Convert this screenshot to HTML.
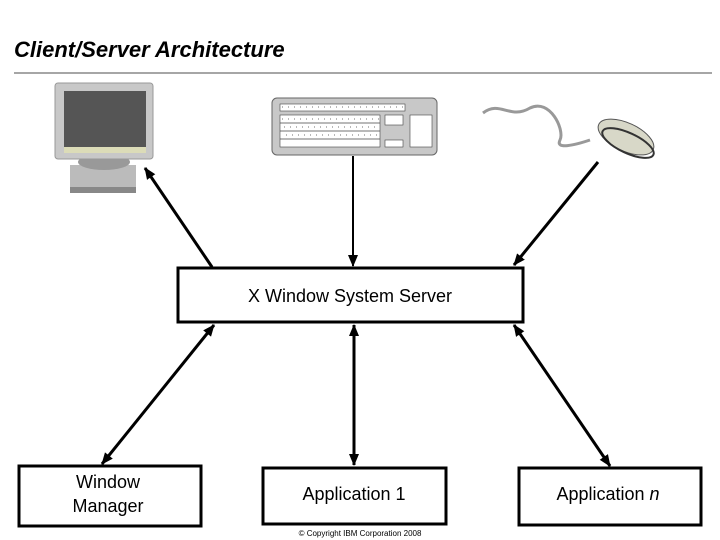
<!DOCTYPE html>
<html><head><style>
body{margin:0;background:#fff;}
svg{display:block}
text{font-family:"Liberation Sans",Arial,sans-serif}
</style></head><body>
<svg width="720" height="540" viewBox="0 0 720 540">
<defs>
<marker id="a" markerWidth="12" markerHeight="12" refX="11" refY="6" orient="auto-start-reverse" markerUnits="userSpaceOnUse">
<path d="M0,1 L12,6 L0,11 Z" fill="#000"/></marker>
</defs>
<text x="14" y="57" font-size="22" font-weight="bold" font-style="italic" fill="#000">Client/Server Architecture</text>
<line x1="14" y1="73" x2="712" y2="73" stroke="#888" stroke-width="1.5"/>
<!-- monitor -->
<rect x="70" y="165" width="66" height="24" fill="#bbb"/>
<rect x="70" y="187" width="66" height="6" fill="#888"/>
<ellipse cx="104" cy="162" rx="26" ry="8" fill="#999"/>
<rect x="55" y="83" width="98" height="76" rx="3" fill="#c8c8c8" stroke="#999"/>
<rect x="64" y="91" width="82" height="62" fill="#555"/>
<rect x="64" y="147" width="82" height="6" fill="#dcdcb8"/>
<!-- keyboard -->
<rect x="272" y="98" width="165" height="57" rx="5" fill="#c8c8c8" stroke="#666"/>
<g fill="#fff" stroke="#444" stroke-width="0.6">
<rect x="280" y="104" width="125" height="7"/>
<rect x="280" y="115" width="100" height="32"/>
<rect x="385" y="115" width="18" height="10"/>
<rect x="385" y="140" width="18" height="7"/>
<rect x="410" y="115" width="22" height="32"/>
</g>
<g stroke="#444" stroke-width="0.8">
<line x1="280" y1="123" x2="380" y2="123"/><line x1="280" y1="131" x2="380" y2="131"/><line x1="280" y1="139" x2="380" y2="139"/>
</g>
<g stroke="#444" stroke-width="0.8" stroke-dasharray="1 5">
<line x1="282" y1="119" x2="380" y2="119"/><line x1="284" y1="127" x2="380" y2="127"/><line x1="286" y1="135" x2="380" y2="135"/><line x1="282" y1="107" x2="405" y2="107"/>
</g>
<!-- mouse -->
<path d="M483,113 C500,100 510,120 530,108 C550,98 565,130 560,140 C555,150 575,145 590,140" fill="none" stroke="#999" stroke-width="3"/>
<ellipse cx="626" cy="137" rx="30" ry="14" transform="rotate(25 626 137)" fill="#d8d8c8" stroke="#555"/>
<ellipse cx="628" cy="143" rx="28" ry="10" transform="rotate(25 628 143)" fill="none" stroke="#333" stroke-width="2"/>
<!-- boxes -->
<g fill="#fff" stroke="#000" stroke-width="3">
<rect x="178" y="268" width="345" height="54"/>
<rect x="19" y="466" width="182" height="60"/>
<rect x="263" y="468" width="183" height="56"/>
<rect x="519" y="468" width="182" height="57"/>
</g>
<g font-size="18" text-anchor="middle" fill="#000">
<text x="350" y="302">X Window System Server</text>
<text x="108" y="488">Window</text>
<text x="108" y="512">Manager</text>
<text x="354" y="500">Application 1</text>
<text x="608" y="500">Application <tspan font-style="italic">n</tspan></text>
</g>
<text x="360" y="536" font-size="8" text-anchor="middle">© Copyright IBM Corporation 2008</text>
<!-- arrows -->
<g stroke="#000" stroke-width="3" fill="none">
<line x1="212" y1="267" x2="145" y2="168" marker-end="url(#a)"/>
<line x1="353" y1="156" x2="353" y2="266" stroke-width="2" marker-end="url(#a)"/>
<line x1="598" y1="162" x2="514" y2="265" marker-end="url(#a)"/>
<line x1="214" y1="325" x2="102" y2="464" marker-start="url(#a)" marker-end="url(#a)"/>
<line x1="354" y1="325" x2="354" y2="465" marker-start="url(#a)" marker-end="url(#a)"/>
<line x1="514" y1="325" x2="610" y2="466" marker-start="url(#a)" marker-end="url(#a)"/>
</g>
</svg>
</body></html>
